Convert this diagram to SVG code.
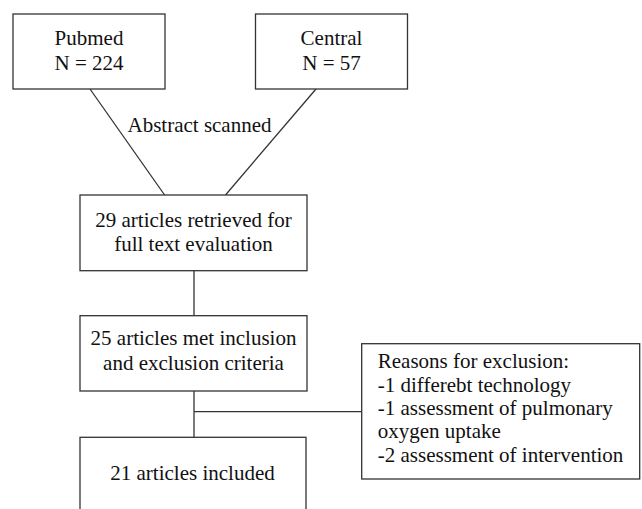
<svg xmlns="http://www.w3.org/2000/svg" width="642" height="509" viewBox="0 0 642 509">
<style>
.box{fill:#fff;stroke:#333;stroke-width:1.3}
.ln{stroke:#333;stroke-width:1.3;fill:none}
.t{font-size:21px;fill:#111}
.c{text-anchor:middle}
</style>
<rect width="642" height="509" fill="#fff"/>
<g id="connectors">
<line class="ln" x1="90" y1="89" x2="164.6" y2="195"/>
<line class="ln" x1="316" y1="89" x2="225.5" y2="195"/>
<line class="ln" x1="194" y1="270.7" x2="194" y2="315.7"/>
<line class="ln" x1="194" y1="391" x2="194" y2="437.3"/>
<line class="ln" x1="194" y1="411.7" x2="361.7" y2="411.7"/>
<text class="t c" style="font-family:'Liberation Serif',serif" x="199.5" y="132">Abstract scanned</text>
</g>
<g id="pubmed">
<rect class="box" x="13" y="14" width="152" height="75"/>
<text class="t c" style="font-family:'Liberation Serif',serif" x="89" y="45">Pubmed</text>
<text class="t c" style="font-family:'Liberation Serif',serif" x="89" y="70">N = 224</text>
</g>
<g id="central">
<rect class="box" x="255.5" y="14" width="152" height="75"/>
<text class="t c" style="font-family:'Liberation Serif',serif" x="331.5" y="45">Central</text>
<text class="t c" style="font-family:'Liberation Serif',serif" x="331.5" y="70">N = 57</text>
</g>
<g id="retrieved">
<rect class="box" x="80" y="195" width="227" height="75.7"/>
<text class="t c" style="font-family:'Liberation Serif',serif" x="193.5" y="227">29 articles retrieved for</text>
<text class="t c" style="font-family:'Liberation Serif',serif" x="193.5" y="250.5">full text evaluation</text>
</g>
<g id="met">
<rect class="box" x="80" y="315.7" width="227" height="75.3"/>
<text class="t c" style="font-family:'Liberation Serif',serif" x="193.5" y="345">25 articles met inclusion</text>
<text class="t c" style="font-family:'Liberation Serif',serif" x="193.5" y="370">and exclusion criteria</text>
</g>
<g id="reasons">
<rect class="box" x="361.7" y="343.7" width="278" height="135.3"/>
<text class="t" style="font-family:'Liberation Serif',serif" x="377.8" y="368.3">Reasons for exclusion:</text>
<text class="t" style="font-family:'Liberation Serif',serif" x="377.8" y="391.7">-1 differebt technology</text>
<text class="t" style="font-family:'Liberation Serif',serif" x="377.8" y="415">-1 assessment of pulmonary</text>
<text class="t" style="font-family:'Liberation Serif',serif" x="377.8" y="438.3">oxygen uptake</text>
<text class="t" style="font-family:'Liberation Serif',serif" x="377.8" y="461.7">-2 assessment of intervention</text>
</g>
<g id="included">
<rect class="box" x="80" y="437.3" width="226" height="90"/>
<text class="t c" style="font-family:'Liberation Serif',serif" x="192.5" y="480">21 articles included</text>
</g>
</svg>
